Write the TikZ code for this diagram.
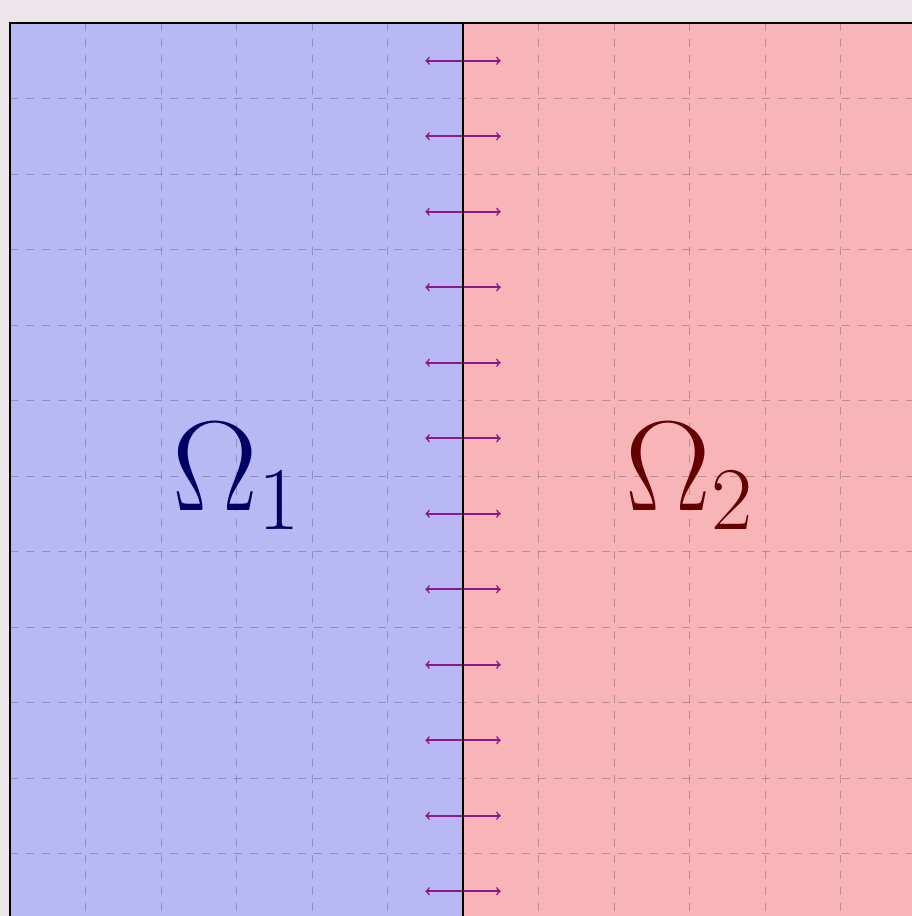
\RequirePackage{fix-cm}
\documentclass[tikz,border=0pt]{standalone}
\usepackage{amsmath, amssymb}
\usepackage{tikz}
\usepackage{xcolor}

\definecolor{pagebg}{RGB}{236,230,234}
\definecolor{domainone}{RGB}{184,184,245}
\definecolor{domaintwo}{RGB}{247,181,184}
\definecolor{labelone}{RGB}{0,0,100}
\definecolor{labeltwo}{RGB}{100,0,0}

\tikzset{
  gridline/.style={black, opacity=0.22, line width=0.7pt, dash pattern={on 6pt off 6pt}},
  fluxarrow/.style={violet!90, line width=1.25pt, <->},
  domainlabel/.style={inner sep=0.75pt, font=\fontsize{96}{110}\selectfont}
}

\begin{document}
\begin{tikzpicture}[x=0.75pt,y=0.75pt,yscale=-1,xscale=1]
%set diagram left start at 0, and has height of 916
\useasboundingbox (0,0) rectangle (912,916);
\fill [pagebg] (0,0) rectangle (912,916);
\clip (0,0) rectangle (912,916);

%Shape: Rectangle [id:left domain]
\fill [domainone] (10,23) rectangle (463,929);
%Shape: Rectangle [id:right domain]
\fill [domaintwo] (463,23) rectangle (916,929);

%Grid: dashed lines
\foreach \k in {1,...,11} {
  \draw [gridline] (10+75.5*\k,23) -- (10+75.5*\k,929);
  \draw [gridline] (10,23+75.5*\k) -- (916,23+75.5*\k);
}

%Straight Lines: arrows across the interface
\foreach \k in {0,...,11} {
  \coordinate (al\k) at (425.25,60.75+75.5*\k);
  \coordinate (ar\k) at (500.75,60.75+75.5*\k);
  \draw [fluxarrow] (al\k) -- (ar\k);
}

%Straight Lines: borders
\draw [line width=0.9pt] (10,929) -- (10,23) -- (916,23);
\draw [line width=0.9pt] (463,23) -- (463,929);

% Text Node
\node [domainlabel, text=labelone] (omega1) at (236.5,476) {$\Omega_1$};
% Text Node
\node [domainlabel, text=labeltwo] (omega2) at (689.5,476) {$\Omega_2$};

\end{tikzpicture}
\end{document}
